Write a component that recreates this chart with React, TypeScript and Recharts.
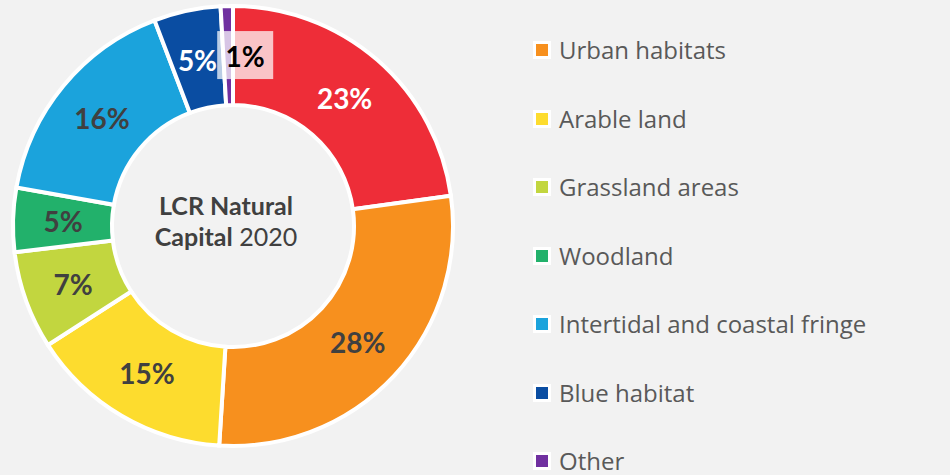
import { PieChart, Pie, Cell, Label } from "recharts";

const categories = [
  "Unlabelled",
  "Urban habitats",
  "Arable land",
  "Grassland areas",
  "Woodland",
  "Intertidal and coastal fringe",
  "Blue habitat",
  "Other",
];
const shares = [22.8, 28.2, 14.9, 7.2, 4.7, 16.4, 4.9, 0.9];
const legendNames = categories.slice(1);

const COLORS = ["#EE2D38", "#F7901E", "#FDDC2E", "#C2D63F", "#22B16B", "#1BA3DC", "#0A4DA2", "#7030A0"];
const LABEL_COLORS = ["#ffffff", "#404040", "#404040", "#404040", "#404040", "#404040", "#ffffff", "#000000"];

const data = categories.map((name, i) => ({ name, value: shares[i] }));

const RAD = Math.PI / 180;
const FONT = "Lato, 'Open Sans', sans-serif";

function SliceLabel(props: any) {
  const { cx, cy, midAngle, index, value } = props;
  const r = 170;
  let x = cx + r * Math.cos(-midAngle * RAD);
  let y = cy + r * Math.sin(-midAngle * RAD);
  const text = `${Math.round(value)}%`;
  if (index === categories.length - 1) {
    // small slice: label nudged right with a light box behind it
    x += 17;
    return (
      <g>
        <rect x={x - 28} y={y - 25} width={56} height={48} fill="#ffffff" fillOpacity={0.72} />
        <text x={x} y={y} textAnchor="middle" dominantBaseline="central" fill={LABEL_COLORS[index]}
          fontFamily={FONT} fontWeight={700} fontSize={28}>
          {text}
        </text>
      </g>
    );
  }
  return (
    <text x={x} y={y} textAnchor="middle" dominantBaseline="central" fill={LABEL_COLORS[index]}
      fontFamily={FONT} fontWeight={700} fontSize={28}>
      {text}
    </text>
  );
}

function CenterTitle() {
  return (
    <g fontFamily={FONT} fontSize={25} fill="#404040">
      <text x={226} y={215} textAnchor="middle" fontWeight={700}>LCR Natural</text>
      <text x={226} y={246} textAnchor="middle">
        <tspan fontWeight={700}>Capital</tspan>
        <tspan> 2020</tspan>
      </text>
    </g>
  );
}

function LegendList() {
  return (
    <div style={{ position: "absolute", left: 533, top: 16, fontFamily: "'Open Sans', sans-serif", fontSize: 24, lineHeight: 1, color: "#595959" }}>
      {legendNames.map((name, i) => (
        <div key={name} style={{ height: 68.5, display: "flex", alignItems: "center" }}>
          <span style={{ display: "inline-block", width: 12, height: 12, background: COLORS[i + 1], border: "3px solid #ffffff" }} />
          <span style={{ marginLeft: 8 }}>{name}</span>
        </div>
      ))}
    </div>
  );
}

export default function App() {
  return (
    <div style={{ position: "fixed", left: 0, top: 0, width: 950, height: 475, background: "#f2f2f2", overflow: "hidden" }}>
      <PieChart width={950} height={475} margin={{ top: 0, right: 0, bottom: 0, left: 0 }}>
        <Pie
          data={data}
          dataKey="value"
          nameKey="name"
          cx={233}
          cy={226}
          innerRadius={121}
          outerRadius={220}
          startAngle={90}
          endAngle={-270}
          stroke="#ffffff"
          strokeWidth={4}
          labelLine={false}
          label={SliceLabel}
          isAnimationActive={false}
        >
          {data.map((d, i) => (
            <Cell key={d.name} fill={COLORS[i]} />
          ))}
          <Label position="center" content={CenterTitle} />
        </Pie>
      </PieChart>
      <LegendList />
    </div>
  );
}
